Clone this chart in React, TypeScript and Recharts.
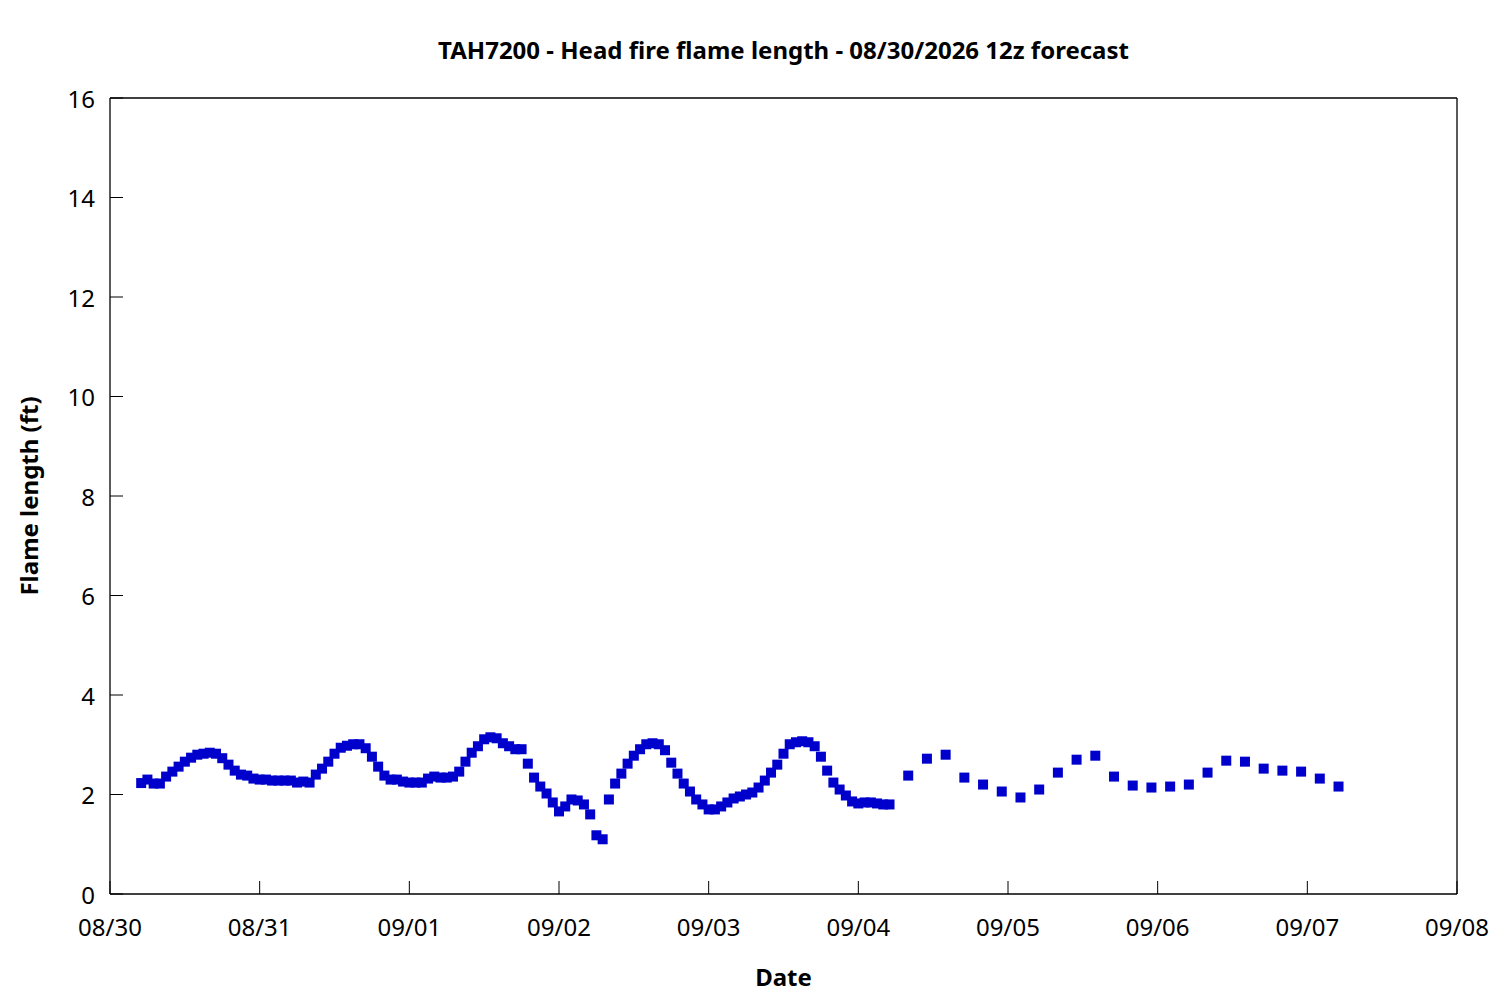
import { Label, Scatter, ScatterChart, XAxis, YAxis } from 'recharts'

// hours since 08/30 00z
const hourlyStart = 5
const hourlyFlame = [
    2.23, 2.3, 2.22, 2.22, 2.36, 2.46, 2.56, 2.66, 2.74, 2.8, 2.82, 2.84, 2.82,
    2.73, 2.6, 2.48, 2.4, 2.38, 2.32, 2.3, 2.3, 2.28, 2.28, 2.28, 2.28, 2.24,
    2.26, 2.24, 2.4, 2.52, 2.66, 2.82, 2.94, 2.98, 3.01, 3.01, 2.93, 2.76, 2.56,
    2.38, 2.3, 2.3, 2.26, 2.24, 2.24, 2.24, 2.32, 2.36, 2.34, 2.34, 2.36, 2.46,
    2.66, 2.84, 2.97, 3.11, 3.15, 3.13, 3.03, 2.97, 2.91, 2.91, 2.62, 2.34, 2.16,
    2.02, 1.84, 1.66, 1.76, 1.9, 1.88, 1.8, 1.6, 1.18, 1.1, 1.9, 2.22, 2.42,
    2.62, 2.78, 2.91, 3.01, 3.03, 3.01, 2.89, 2.64, 2.42, 2.22, 2.06, 1.9, 1.8,
    1.7, 1.7, 1.76, 1.84, 1.92, 1.96, 2.0, 2.04, 2.14, 2.28, 2.44, 2.6, 2.82,
    3.01, 3.05, 3.07, 3.05, 2.97, 2.76, 2.48, 2.24, 2.1, 1.98, 1.86, 1.82, 1.84,
    1.84, 1.82, 1.8, 1.8,
]

const threeHourlyStart = 128
const threeHourlyFlame = [
    2.38, 2.72, 2.8, 2.34, 2.2, 2.06, 1.94, 2.1, 2.44, 2.7, 2.78, 2.36, 2.18,
    2.14, 2.16, 2.2, 2.44, 2.68, 2.66, 2.52, 2.48, 2.46, 2.32, 2.16,
]

const dayLabels = [
    '08/30', '08/31', '09/01', '09/02', '09/03',
    '09/04', '09/05', '09/06', '09/07', '09/08',
]
const yTicks = [0, 2, 4, 6, 8, 10, 12, 14, 16]

const hourly = hourlyFlame.map((v, i) => ({ hour: hourlyStart + i, flame: v }))
const threeHourly = threeHourlyFlame.map((v, i) => ({
    hour: threeHourlyStart + i * 3,
    flame: v,
}))
const dayTicks = dayLabels.map((_, i) => i * 24)

const font = '"Noto Sans", sans-serif'
const blue = '#0000cc'
const tickLen = 13

const Square = (props: any) => {
    const { cx, cy } = props
    return <rect x={cx - 5} y={cy - 5} width={10} height={10} fill={blue} />
}

const BottomTick = ({ x, y, payload }: any) => (
    <g>
        <line x1={x} x2={x} y1={y} y2={y - tickLen} stroke="#000" />
        <text
            x={x}
            y={y + 32}
            textAnchor="middle"
            dominantBaseline="central"
            fontSize={24}
            fontFamily={font}
            fill="#000"
        >
            {dayLabels[Math.round(payload.value / 24)]}
        </text>
    </g>
)

const TopTick = ({ x, y }: any) => (
    <line x1={x} x2={x} y1={y} y2={y + tickLen} stroke="#000" />
)

const LeftTick = ({ x, y, payload }: any) => (
    <g>
        <line x1={x} x2={x + tickLen} y1={y} y2={y} stroke="#000" />
        <text
            x={x - 15}
            y={y}
            textAnchor="end"
            dominantBaseline="central"
            fontSize={24}
            fontFamily={font}
            fill="#000"
        >
            {payload.value}
        </text>
    </g>
)

const RightTick = ({ x, y }: any) => (
    <line x1={x} x2={x - tickLen} y1={y} y2={y} stroke="#000" />
)

const boldText = { fontFamily: font, fontWeight: 'bold', fontSize: 24, fill: '#000' }

export default function App() {
    return (
        <div style={{ position: 'absolute', left: 0, top: 0, width: 1500, height: 1000, background: '#fff' }}>
            <div
                style={{
                    position: 'absolute',
                    left: 110,
                    width: 1347,
                    top: 33,
                    textAlign: 'center',
                    fontFamily: font,
                    fontWeight: 'bold',
                    fontSize: 24,
                    lineHeight: '34px',
                }}
            >
                TAH7200 - Head fire flame length - 08/30/2026 12z forecast
            </div>
            <ScatterChart
                width={1500}
                height={1000}
                margin={{ top: 0, right: 0, bottom: 0, left: 0 }}
                style={{ position: 'absolute', left: 0, top: 0 }}
            >
                <XAxis
                    xAxisId="bottom"
                    dataKey="hour"
                    type="number"
                    domain={[0, 216]}
                    ticks={dayTicks}
                    interval={0}
                    height={106}
                    tickSize={0}
                    tickMargin={0}
                    tickLine={false}
                    axisLine={{ stroke: '#000', strokeWidth: 1.3 }}
                    tick={<BottomTick />}
                >
                    <Label value="Date" position="insideBottom" offset={14} style={boldText} />
                </XAxis>
                <XAxis
                    xAxisId="top"
                    orientation="top"
                    dataKey="hour"
                    type="number"
                    domain={[0, 216]}
                    ticks={dayTicks}
                    interval={0}
                    height={98}
                    tickSize={0}
                    tickMargin={0}
                    tickLine={false}
                    axisLine={{ stroke: '#000', strokeWidth: 1.3 }}
                    tick={<TopTick />}
                />
                <YAxis
                    yAxisId="left"
                    dataKey="flame"
                    type="number"
                    domain={[0, 16]}
                    ticks={yTicks}
                    interval={0}
                    width={110}
                    tickSize={0}
                    tickMargin={0}
                    tickLine={false}
                    axisLine={{ stroke: '#000', strokeWidth: 1.3 }}
                    tick={<LeftTick />}
                >
                    <Label
                        value="Flame length (ft)"
                        angle={-90}
                        position="insideLeft"
                        offset={29}
                        style={{ ...boldText, textAnchor: 'middle' }}
                    />
                </YAxis>
                <YAxis
                    yAxisId="right"
                    orientation="right"
                    dataKey="flame"
                    type="number"
                    domain={[0, 16]}
                    ticks={yTicks}
                    interval={0}
                    width={43}
                    tickSize={0}
                    tickMargin={0}
                    tickLine={false}
                    axisLine={{ stroke: '#000', strokeWidth: 1.3 }}
                    tick={<RightTick />}
                />
                <Scatter
                    data={hourly}
                    xAxisId="bottom"
                    yAxisId="left"
                    fill={blue}
                    shape={<Square />}
                    isAnimationActive={false}
                />
                <Scatter
                    data={threeHourly}
                    xAxisId="bottom"
                    yAxisId="left"
                    fill={blue}
                    shape={<Square />}
                    isAnimationActive={false}
                />
            </ScatterChart>
        </div>
    )
}
